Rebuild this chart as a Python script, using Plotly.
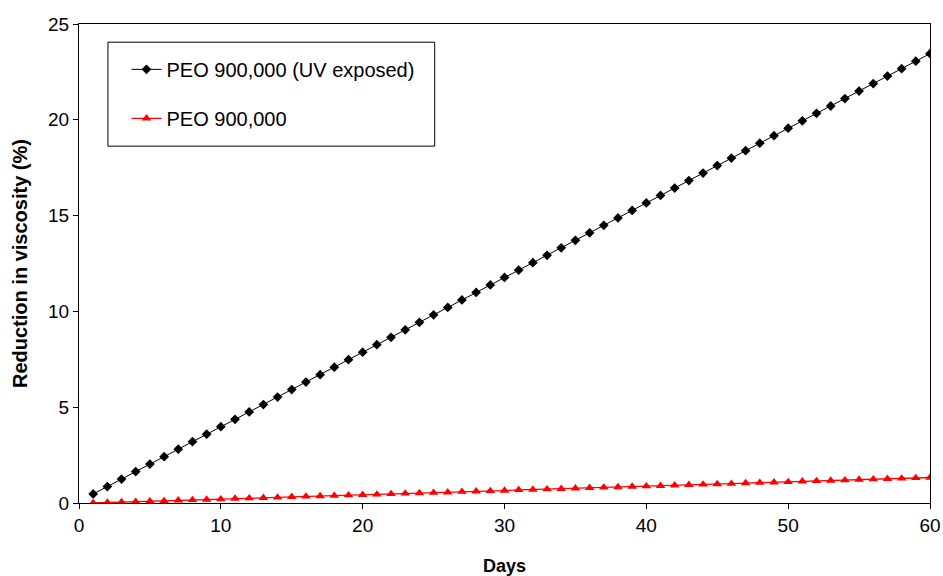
import plotly.graph_objects as go

# Days of storage
days = list(range(1, 61))

# Reduction in viscosity (%) for the UV-exposed PEO solution
uv_exposed = [
    0.47, 0.86, 1.25, 1.64, 2.03, 2.42, 2.81, 3.20, 3.59, 3.98,
    4.37, 4.75, 5.14, 5.53, 5.92, 6.31, 6.70, 7.09, 7.48, 7.87,
    8.26, 8.65, 9.04, 9.43, 9.82, 10.21, 10.60, 10.99, 11.38, 11.77,
    12.16, 12.54, 12.93, 13.32, 13.71, 14.10, 14.49, 14.88, 15.27, 15.66,
    16.05, 16.44, 16.83, 17.22, 17.61, 18.00, 18.39, 18.78, 19.17, 19.56,
    19.95, 20.34, 20.72, 21.11, 21.50, 21.89, 22.28, 22.67, 23.06, 23.45,
]

# Reduction in viscosity (%) for the unexposed PEO solution
unexposed = [
    0.00, 0.02, 0.05, 0.07, 0.09, 0.11, 0.14, 0.16, 0.18, 0.20,
    0.23, 0.25, 0.27, 0.29, 0.32, 0.34, 0.36, 0.38, 0.41, 0.43,
    0.45, 0.47, 0.50, 0.52, 0.54, 0.56, 0.59, 0.61, 0.63, 0.65,
    0.68, 0.70, 0.72, 0.74, 0.77, 0.79, 0.81, 0.83, 0.86, 0.88,
    0.90, 0.92, 0.95, 0.97, 0.99, 1.01, 1.04, 1.06, 1.08, 1.10,
    1.13, 1.15, 1.17, 1.19, 1.22, 1.24, 1.26, 1.28, 1.31, 1.33,
]

series_names = ["PEO 900,000 (UV exposed)", "PEO 900,000"]
x_ticks = [0, 10, 20, 30, 40, 50, 60]
y_ticks = [0, 5, 10, 15, 20, 25]

FONT = "Liberation Sans, Arial, sans-serif"

fig = go.Figure()
fig.add_trace(go.Scatter(
    x=days, y=uv_exposed, name=series_names[0], mode="lines+markers",
    line=dict(color="black", width=1),
    marker=dict(symbol="diamond", size=7.5, color="black"),
    legendgroup="a",
))
fig.add_trace(go.Scatter(
    x=days, y=unexposed, name=series_names[1], mode="lines+markers",
    line=dict(color="#ff0000", width=1.3),
    marker=dict(symbol="triangle-up", size=8.5, color="#ff0000"),
    legendgroup="b",
))

axis_common = dict(
    showgrid=False, zeroline=False, showline=True, linecolor="black",
    linewidth=1, mirror=True, ticks="outside", ticklen=5, tickcolor="black",
    tickfont=dict(family=FONT, size=19, color="black"),
    automargin=False,
)

fig.update_layout(
    width=943, height=576,
    margin=dict(l=79, r=13, t=24, b=73),
    paper_bgcolor="white", plot_bgcolor="white",
    showlegend=True,
    legend=dict(
        x=0.0558, y=0.946, xanchor="left", yanchor="top",
        bgcolor="rgba(0,0,0,0)", borderwidth=0,
        font=dict(family=FONT, size=20, color="black"),
        traceorder="grouped", tracegroupgap=20,
        itemwidth=30,
    ),
    xaxis=dict(
        range=[0, 60], tickvals=x_ticks, **axis_common,
        title=dict(text="<b>Days</b>", font=dict(family=FONT, size=18, color="black"), standoff=24),
    ),
    yaxis=dict(
        range=[0, 25], tickvals=y_ticks, **axis_common,
        title=dict(text="<b>Reduction in viscosity (%)</b>", font=dict(family=FONT, size=20, color="black"), standoff=15),
    ),
    shapes=[dict(
        type="rect", xref="paper", yref="paper",
        x0=0.034, x1=0.418, y0=0.745, y1=0.962,
        line=dict(color="black", width=1), fillcolor="rgba(0,0,0,0)",
    )],
)

fig.write_html("out.html")
